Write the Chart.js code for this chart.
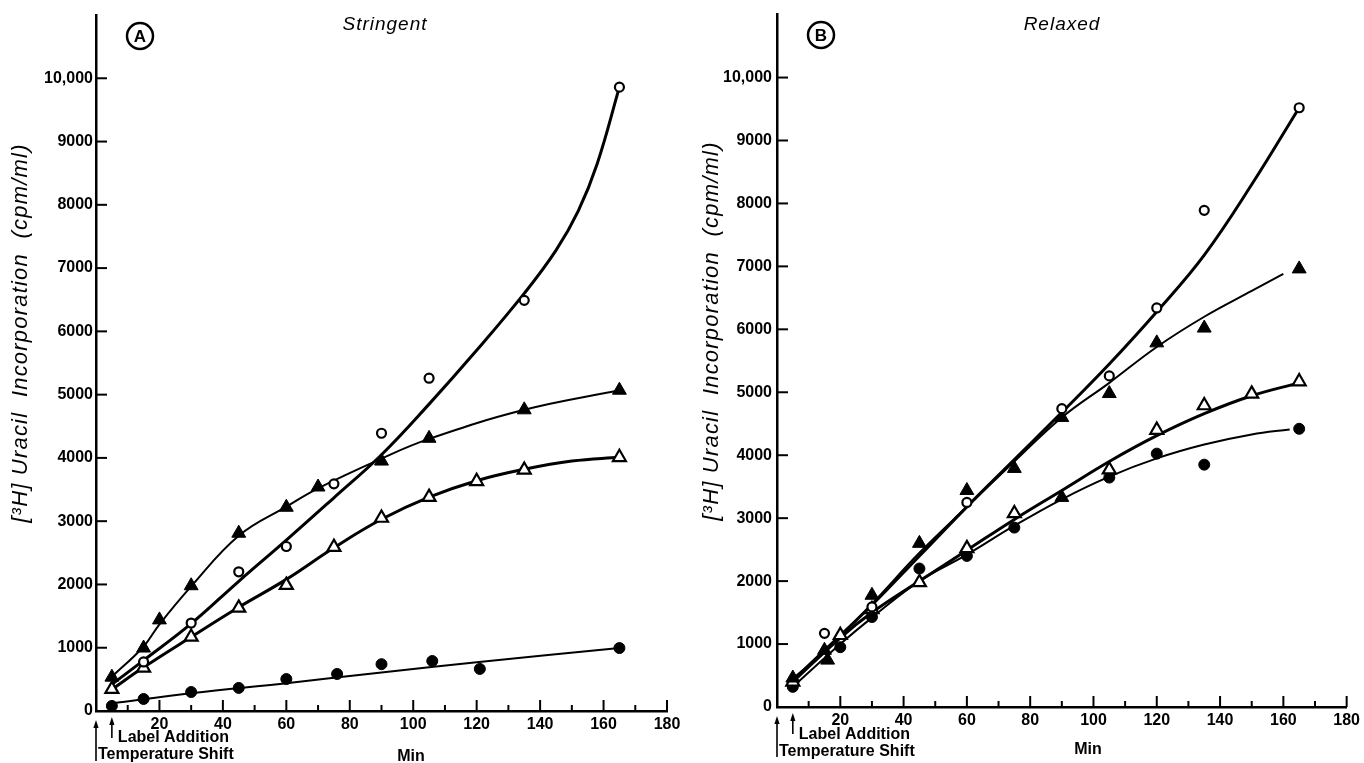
<!DOCTYPE html>
<html>
<head>
<meta charset="utf-8">
<script src="https://cdn.jsdelivr.net/npm/chart.js@4.4.1/dist/chart.umd.min.js"></script>
<style>
html,body{margin:0;padding:0;background:#fff;width:1364px;height:763px;overflow:hidden}
canvas{position:absolute;top:0}
#cA{left:0}
#cB{left:690px}
</style>
</head>
<body>
<canvas id="cA" width="690" height="763"></canvas>
<canvas id="cB" width="674" height="763"></canvas>
<script>
// ---------- text ----------
const panelTitles = ['Stringent', 'Relaxed'];
const panelLetters = ['A', 'B'];
const yAxisTitle = '[\u00B3H] Uracil  Incorporation  (cpm/ml)';
const xAxisTitle = 'Min';
const eventTimes = [0, 5];
const eventLabels = ['Temperature Shift', 'Label Addition'];
const yTickValues = [0, 1000, 2000, 3000, 4000, 5000, 6000, 7000, 8000, 9000, 10000];
const yTickLabels = ['0', '1000', '2000', '3000', '4000', '5000', '6000', '7000', '8000', '9000', '10,000'];
const xTickLabels = ['20', '40', '60', '80', '100', '120', '140', '160', '180'];

// ---------- Panel A (Stringent): measured points ----------
const aOpenCircleT = [15, 30, 45, 60, 75, 90, 105, 135, 165];
const aOpenCircleV = [775, 1390, 2200, 2600, 3590, 4390, 5260, 6490, 9860];
const aFilledTriT  = [5, 15, 20, 30, 45, 60, 70, 90, 105, 135, 165];
const aFilledTriV  = [535, 995, 1440, 1980, 2810, 3220, 3540, 3950, 4310, 4760, 5070];
const aOpenTriT    = [5, 15, 30, 45, 60, 75, 90, 105, 120, 135, 165];
const aOpenTriV    = [345, 680, 1170, 1630, 1990, 2590, 3050, 3380, 3630, 3810, 4010];
const aFilledCircT = [5, 15, 30, 45, 60, 76, 90, 106, 121, 165];
const aFilledCircV = [80, 190, 300, 365, 505, 585, 740, 790, 665, 995];
// Panel A: hand-drawn curves
const aOpenCircleFitT = [5, 15, 30, 45, 60, 75, 90, 105, 120, 135, 145, 152, 158, 165];
const aOpenCircleFitV = [420, 800, 1380, 2050, 2700, 3370, 4050, 4850, 5700, 6600, 7280, 7900, 8650, 9860];
const aFilledTriFitT  = [5, 15, 20, 30, 45, 60, 70, 90, 105, 135, 165];
const aFilledTriFitV  = [540, 1020, 1370, 1970, 2770, 3230, 3520, 3990, 4300, 4760, 5070];
const aOpenTriFitT    = [5, 15, 30, 45, 60, 75, 90, 105, 120, 135, 150, 165];
const aOpenTriFitV    = [340, 690, 1170, 1640, 2080, 2580, 3030, 3380, 3640, 3820, 3950, 4010];
const aFilledCircFitT = [5, 30, 60, 90, 120, 165];
const aFilledCircFitV = [120, 280, 440, 610, 770, 995];

// ---------- Panel B (Relaxed): measured points ----------
const bOpenCircleT = [15, 30, 60, 90, 105, 120, 135, 165];
const bOpenCircleV = [1170, 1590, 3250, 4740, 5260, 6340, 7890, 9520];
const bFilledTriT  = [5, 15, 16, 30, 45, 60, 75, 90, 90, 105, 120, 135, 165];
const bFilledTriV  = [460, 900, 745, 1775, 2600, 3440, 3790, 4600, 3330, 4980, 5785, 6020, 6960];
const bOpenTriT    = [5, 20, 30, 45, 60, 75, 105, 120, 135, 150, 165];
const bOpenTriV    = [400, 1140, 1550, 1980, 2520, 3075, 3770, 4400, 4790, 4975, 5170];
const bFilledCircT = [5, 20, 30, 45, 60, 75, 105, 120, 135, 165];
const bFilledCircV = [320, 950, 1430, 2200, 2400, 2850, 3645, 4025, 3850, 4420];
// Panel B: hand-drawn curves
const bOpenCircleFitT = [5, 15, 30, 45, 60, 75, 90, 105, 120, 135, 150, 165];
const bOpenCircleFitV = [420, 900, 1620, 2400, 3180, 3930, 4680, 5450, 6280, 7180, 8300, 9520];
const bFilledTriFitT  = [5, 15, 30, 45, 60, 75, 90, 105, 120, 135, 150, 160];
const bFilledTriFitV  = [450, 880, 1640, 2450, 3180, 3900, 4600, 5150, 5720, 6200, 6610, 6880];
const bOpenTriFitT    = [5, 20, 30, 45, 60, 75, 90, 105, 120, 135, 150, 165];
const bOpenTriFitV    = [400, 1100, 1500, 2000, 2490, 2980, 3440, 3900, 4310, 4660, 4945, 5150];
const bFilledCircFitT = [5, 20, 30, 45, 60, 75, 90, 105, 120, 135, 150, 162];
const bFilledCircFitV = [320, 1000, 1420, 2000, 2420, 2880, 3300, 3660, 3950, 4170, 4330, 4410];

// ---------- helpers ----------
const FONT = '"Liberation Sans", Arial, sans-serif';
function pts(t, v) { return t.map((x, i) => ({x: x, y: v[i]})); }
function markers(t, v, kind) {
  const s = {
    openCircle:  {pointStyle: 'circle',   pointRadius: 4.5, pointBorderWidth: 2.2, pointBackgroundColor: '#fff'},
    filledCirc:  {pointStyle: 'circle',   pointRadius: 5.5, pointBorderWidth: 1,   pointBackgroundColor: '#000'},
    filledTri:   {pointStyle: 'triangle', pointRadius: 8,   pointBorderWidth: 1,   pointBackgroundColor: '#000'},
    openTri:     {pointStyle: 'triangle', pointRadius: 7.5, pointBorderWidth: 2.2, pointBackgroundColor: '#fff'}
  }[kind];
  return Object.assign({data: pts(t, v), showLine: false, pointBorderColor: '#000', order: 1}, s);
}
function curve(t, v, w) {
  return {data: pts(t, v), showLine: true, pointRadius: 0, borderColor: '#000', borderWidth: w,
          tension: 0.4, cubicInterpolationMode: 'default', fill: false, order: 2};
}
function arrow(ctx, x, yTop, yBot) {
  ctx.lineWidth = 1.6;
  ctx.beginPath(); ctx.moveTo(x, yBot); ctx.lineTo(x, yTop + 4); ctx.stroke();
  ctx.beginPath(); ctx.moveTo(x, yTop); ctx.lineTo(x - 2.6, yTop + 8); ctx.lineTo(x + 2.6, yTop + 8); ctx.closePath(); ctx.fill();
}

const decor = {
  id: 'decor',
  afterDraw(chart, args, o) {
    const ctx = chart.ctx, ca = chart.chartArea, x = chart.scales.x, y = chart.scales.y;
    ctx.save();
    ctx.strokeStyle = '#000'; ctx.fillStyle = '#000';
    ctx.lineWidth = 2;
    x.ticks.forEach(t => {
      if (t.value <= 0) return;
      const px = x.getPixelForValue(t.value);
      const len = t.value % 20 === 0 ? 11 : 6;
      ctx.beginPath(); ctx.moveTo(px, ca.bottom); ctx.lineTo(px, ca.bottom - len); ctx.stroke();
    });
    y.ticks.forEach(t => {
      if (t.value <= 0) return;
      const py = y.getPixelForValue(t.value);
      ctx.beginPath(); ctx.moveTo(ca.left, py); ctx.lineTo(ca.left + 11, py); ctx.stroke();
    });
    // circled letter
    ctx.lineWidth = 2.5;
    ctx.beginPath(); ctx.arc(o.letterX, o.letterY, 13, 0, Math.PI * 2); ctx.stroke();
    ctx.textAlign = 'center'; ctx.textBaseline = 'middle';
    ctx.font = 'bold 17px ' + FONT;
    ctx.fillText(o.letter, o.letterX, o.letterY + 1);
    // panel title
    ctx.font = 'italic 19px ' + FONT;
    ctx.letterSpacing = '1px';
    ctx.fillText(o.title, o.titleX, o.titleY);
    // y-axis title
    ctx.save();
    ctx.translate(o.yTitleX, o.yTitleY); ctx.rotate(-Math.PI / 2);
    ctx.font = 'italic 22px ' + FONT;
    ctx.letterSpacing = '1.2px';
    ctx.fillText(yAxisTitle, 0, 0);
    ctx.restore();
    ctx.letterSpacing = '0px';
    // x-axis title
    ctx.font = 'bold 16px ' + FONT;
    ctx.fillText(xAxisTitle, o.minX, o.minY);
    // event arrows
    const x0 = x.getPixelForValue(eventTimes[0]), x5 = x.getPixelForValue(eventTimes[1]);
    arrow(ctx, x0, ca.bottom + 9, ca.bottom + 50);
    arrow(ctx, x5, ca.bottom + 6, ca.bottom + 27);
    ctx.textAlign = 'left';
    ctx.fillText(eventLabels[1], x5 + 6, ca.bottom + o.labelDy);
    ctx.fillText(eventLabels[0], x0 + 2, ca.bottom + o.tempDy);
    ctx.restore();
  }
};

function makeChart(id, datasets, geo, deco) {
  return new Chart(document.getElementById(id), {
    type: 'scatter',
    data: {datasets: datasets},
    plugins: [decor],
    options: {
      responsive: false, animation: false, events: [],
      layout: {padding: {left: 0, right: geo.padRight, top: geo.padTop, bottom: 0}},
      plugins: {legend: {display: false}, tooltip: {enabled: false}, decor: deco},
      scales: {
        x: {
          type: 'linear', min: 0, max: 180,
          afterFit: s => { s.height = geo.xHeight; },
          ticks: {stepSize: 10, autoSkip: false, maxRotation: 0, color: '#000', padding: geo.xPad,
                  font: {family: FONT, size: 16, weight: 'bold'},
                  callback: v => { const i = xTickLabels.indexOf(String(v)); return i >= 0 ? xTickLabels[i] : ''; }},
          grid: {display: false, drawTicks: false, tickLength: 0},
          border: {display: true, color: '#000', width: 2.5}
        },
        y: {
          type: 'linear', min: 0, max: 11000,
          afterFit: s => { s.width = geo.yWidth; },
          afterBuildTicks: s => { s.ticks = yTickValues.map(v => ({value: v})); },
          ticks: {autoSkip: false, color: '#000', padding: geo.yPad,
                  font: {family: FONT, size: 16, weight: 'bold'},
                  callback: v => { const i = yTickValues.indexOf(v); return i >= 0 ? yTickLabels[i] : ''; }},
          grid: {display: false, drawTicks: false, tickLength: 0},
          border: {display: true, color: '#000', width: 2.5}
        }
      }
    }
  });
}

makeChart('cA', [
  markers(aOpenCircleT, aOpenCircleV, 'openCircle'),
  markers(aFilledTriT, aFilledTriV, 'filledTri'),
  markers(aOpenTriT, aOpenTriV, 'openTri'),
  markers(aFilledCircT, aFilledCircV, 'filledCirc'),
  curve(aOpenCircleFitT, aOpenCircleFitV, 3),
  curve(aFilledTriFitT, aFilledTriFitV, 2),
  curve(aOpenTriFitT, aOpenTriFitV, 3),
  curve(aFilledCircFitT, aFilledCircFitV, 2)
], {padRight: 23, padTop: 15, xHeight: 52, yWidth: 96, xPad: 4, yPad: 3},
{letter: panelLetters[0], letterX: 140, letterY: 36, title: panelTitles[0], titleX: 385, titleY: 25,
 yTitleX: 21, yTitleY: 333, minX: 411, minY: 757, labelDy: 27, tempDy: 44});

makeChart('cB', [
  markers(bOpenCircleT, bOpenCircleV, 'openCircle'),
  markers(bFilledTriT, bFilledTriV, 'filledTri'),
  markers(bOpenTriT, bOpenTriV, 'openTri'),
  markers(bFilledCircT, bFilledCircV, 'filledCirc'),
  curve(bOpenCircleFitT, bOpenCircleFitV, 3),
  curve(bFilledTriFitT, bFilledTriFitV, 2),
  curve(bOpenTriFitT, bOpenTriFitV, 3),
  curve(bFilledCircFitT, bFilledCircFitV, 2)
], {padRight: 17, padTop: 13, xHeight: 56, yWidth: 87, xPad: 4, yPad: 5},
{letter: panelLetters[1], letterX: 131, letterY: 35, title: panelTitles[1], titleX: 372, titleY: 25,
 yTitleX: 22, yTitleY: 331, minX: 398, minY: 750, labelDy: 28, tempDy: 45});
</script>
</body>
</html>
